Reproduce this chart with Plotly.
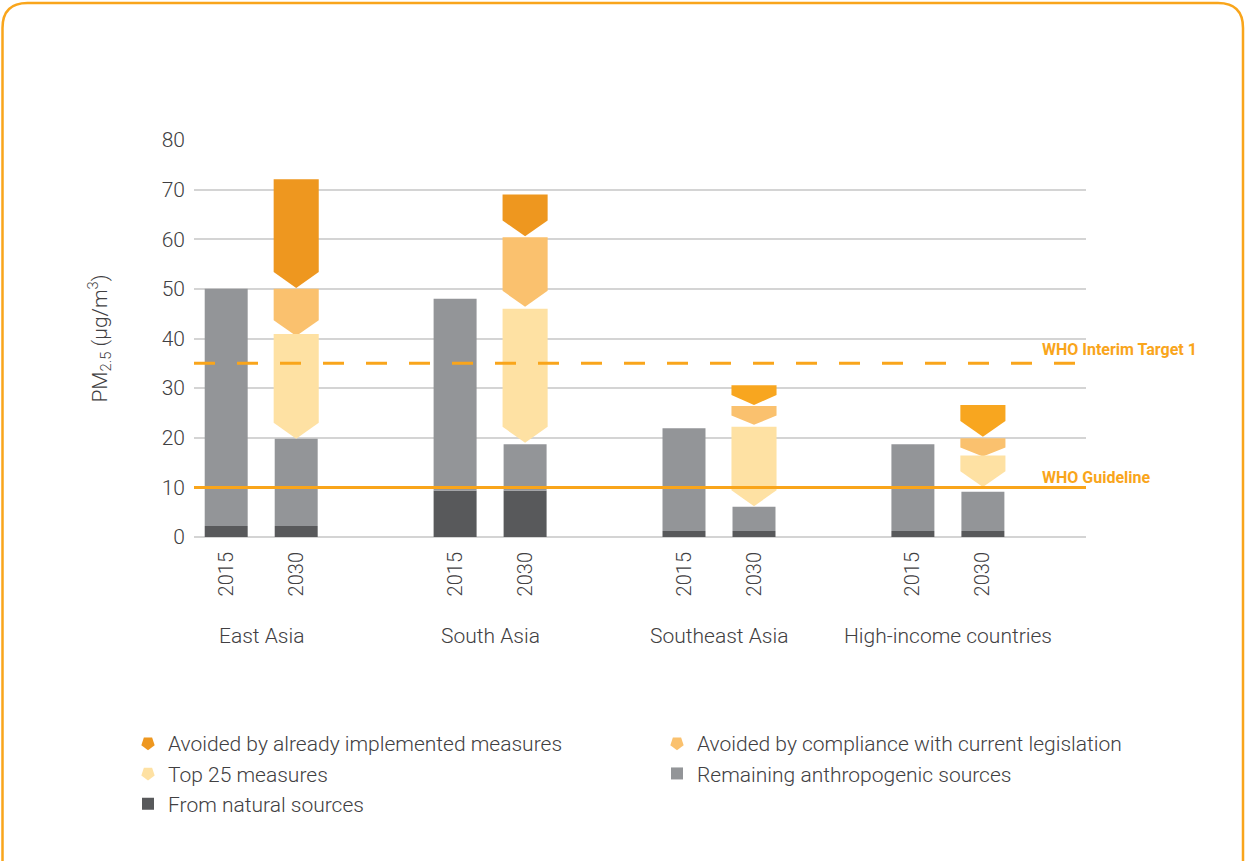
import plotly.graph_objects as go

# ---------------- data ----------------
regions = ["East Asia", "South Asia", "Southeast Asia", "High-income countries"]
years = ["2015", "2030"]
natural = [2.2, 9.3, 1.2, 1.2]
total_2015 = [50.0, 48.0, 21.9, 18.7]
remaining_top_2030 = [19.8, 18.7, 6.1, 9.1]
top25_top = [40.9, 46.0, 22.2, 16.4]
top25_tip = [19.8, 19.0, 6.2, 10.1]
compliance_top = [50.0, 60.4, 26.4, 19.9]
compliance_tip = [40.5, 46.4, 22.6, 16.2]
implemented_top = [72.1, 69.0, 30.6, 26.6]
implemented_tip = [50.2, 60.6, 26.6, 20.2]
who_interim = 35
who_guideline = 10
y_ticks = [0, 10, 20, 30, 40, 50, 60, 70, 80]

# ---------------- styles ----------------
C_IMPL = ["#EE971F", "#EE971F", "#F8A61F", "#F8A61F"]
C_COMP = "#FAC16E"
C_TOP = "#FEE1A3"
C_REM = "#939598"
C_NAT = "#58595B"
C_WHO = "#F9A51B"
TXT = "#414042"
FONT = "Roboto"
FS = 21

PW, PH = 892, 397           # plot area size (px)
REF_L, REF_T = 194, 140     # plot area position in the page (px)
REF_B = REF_T + PH
W, H = 1245, 861
ML, MT = REF_L, REF_T
MR = W - ML - PW
MB = H - MT - PH

GROUP_GAP = 3.27
pos15 = [i * GROUP_GAP for i in range(len(regions))]
pos30 = [p + 1 for p in pos15]
BAR_W = 0.614
ARR_HW = 0.322


def to_paper(xp, yp):
    return (xp - REF_L) / PW, (REF_B - yp) / PH


fig = go.Figure()

# natural sources
fig.add_trace(go.Bar(
    x=pos15 + pos30, y=natural + natural, base=0, width=BAR_W,
    marker=dict(color=C_NAT, line=dict(width=0)),
    name="From natural sources", legendrank=5, hoverinfo="skip"))
# remaining anthropogenic
rem_vals = [t - n for t, n in zip(total_2015, natural)] + \
           [t - n for t, n in zip(remaining_top_2030, natural)]
fig.add_trace(go.Bar(
    x=pos15 + pos30, y=rem_vals, base=natural + natural, width=BAR_W,
    marker=dict(color=C_REM, line=dict(width=0)),
    name="Remaining anthropogenic sources", legendrank=4, hoverinfo="skip"))


def arrow(c, top, tip):
    h = top - tip
    d = min(3.2, 0.5 * h)
    xs = [c - ARR_HW, c + ARR_HW, c + ARR_HW, c, c - ARR_HW, c - ARR_HW]
    ys = [top, top, tip + d, tip, tip + d, top]
    return xs, ys


series = [
    ("Avoided by already implemented measures", implemented_top, implemented_tip, C_IMPL, 1),
    ("Avoided by compliance with current legislation", compliance_top, compliance_tip, [C_COMP] * 4, 2),
    ("Top 25 measures", top25_top, top25_tip, [C_TOP] * 4, 3),
]
for name, tops, tips, cols, rank in series:
    for i in range(len(regions)):
        xs, ys = arrow(pos30[i], tops[i], tips[i])
        fig.add_trace(go.Scatter(
            x=xs, y=ys, mode="lines", fill="toself", fillcolor=cols[i],
            line=dict(width=0, color=cols[i]), legendgroup=name,
            showlegend=False, hoverinfo="skip"))
    fig.add_trace(go.Scatter(
        x=[None], y=[None], mode="markers", name=name, legendgroup=name,
        legendrank=rank,
        marker=dict(symbol="pentagon", angle=180, size=14, color=cols[0])))

# WHO lines
fig.add_hline(y=who_interim, line=dict(color=C_WHO, width=3, dash="21px,22px"), layer="above")
fig.add_hline(y=who_guideline, line=dict(color=C_WHO, width=3), layer="above")
lab_x = to_paper(1040, 0)[0]
fig.add_annotation(x=lab_x, xref="paper", y=who_interim, yref="y",
                   text="<b>WHO Interim Target 1</b>", showarrow=False,
                   xanchor="left", yanchor="bottom", yshift=2,
                   font=dict(family=FONT, size=16, color=C_WHO))
fig.add_annotation(x=lab_x, xref="paper", y=who_guideline, yref="y",
                   text="<b>WHO Guideline</b>", showarrow=False,
                   xanchor="left", yanchor="bottom", yshift=-2,
                   font=dict(family=FONT, size=16, color=C_WHO))

# region labels
for i, r in enumerate(regions):
    fig.add_annotation(x=(pos15[i] + pos30[i]) / 2, xref="x", y=to_paper(0, 636)[1], yref="paper",
                       text=r, showarrow=False, xanchor="center", yanchor="middle",
                       font=dict(family=FONT, size=FS, color=TXT, weight=300))

# rounded border
R = 25
pts = {
    "a": to_paper(2.5, 950), "b": to_paper(2.5, 3 + R), "c": to_paper(2.5, 3), "d": to_paper(2.5 + R, 3),
    "e": to_paper(1243 - R, 3), "f": to_paper(1243, 3), "g": to_paper(1243, 3 + R),
    "h": to_paper(1243, 950),
}
path = ("M {a[0]},{a[1]} L {b[0]},{b[1]} Q {c[0]},{c[1]} {d[0]},{d[1]} "
        "L {e[0]},{e[1]} Q {f[0]},{f[1]} {g[0]},{g[1]} L {h[0]},{h[1]}").format(**pts)
fig.add_shape(type="path", path=path, xref="paper", yref="paper",
              line=dict(color=C_WHO, width=2.5))

tickvals = []
ticktext = []
for a, b in zip(pos15, pos30):
    tickvals += [a, b]
    ticktext += years

leg_x, leg_y = to_paper(128, 723)

fig.update_layout(
    width=W, height=H,
    margin=dict(l=ML, r=MR, t=MT, b=MB, pad=0),
    paper_bgcolor="white", plot_bgcolor="white",
    barmode="overlay",
    font=dict(family=FONT, size=FS, color=TXT, weight=300),
    showlegend=True,
    legend=dict(orientation="h", x=leg_x, xanchor="left",
                y=leg_y, yanchor="top",
                entrywidth=484, entrywidthmode="pixels",
                font=dict(family=FONT, size=FS, color=TXT, weight=300),
                itemclick=False, itemdoubleclick=False,
                tracegroupgap=0),
    xaxis=dict(range=[-0.46, -0.46 + PW / 70], tickvals=tickvals, ticktext=ticktext,
               tickangle=-90, showgrid=False, zeroline=False, showline=False, ticks="",
               ticklabelstandoff=10,
               tickfont=dict(family=FONT, size=20, color=TXT, weight=300)),
    yaxis=dict(range=[0, 80], tickvals=y_ticks, showgrid=True, gridcolor="#D4D4D4",
               gridwidth=1.5, zeroline=True, zerolinecolor="#D4D4D4", zerolinewidth=1.5,
               showline=False, ticks="", ticklabelstandoff=8,
               tickfont=dict(family=FONT, size=FS, color=TXT, weight=300),
               title=dict(text="PM<sub>2.5</sub> (µg/m<sup>3</sup>)", standoff=48,
                          font=dict(family=FONT, size=FS, color=TXT, weight=300))),
)

fig.write_html("out.html", config={"displayModeBar": False},
               post_script="document.body.style.margin='0px';document.body.style.overflow='hidden';")
